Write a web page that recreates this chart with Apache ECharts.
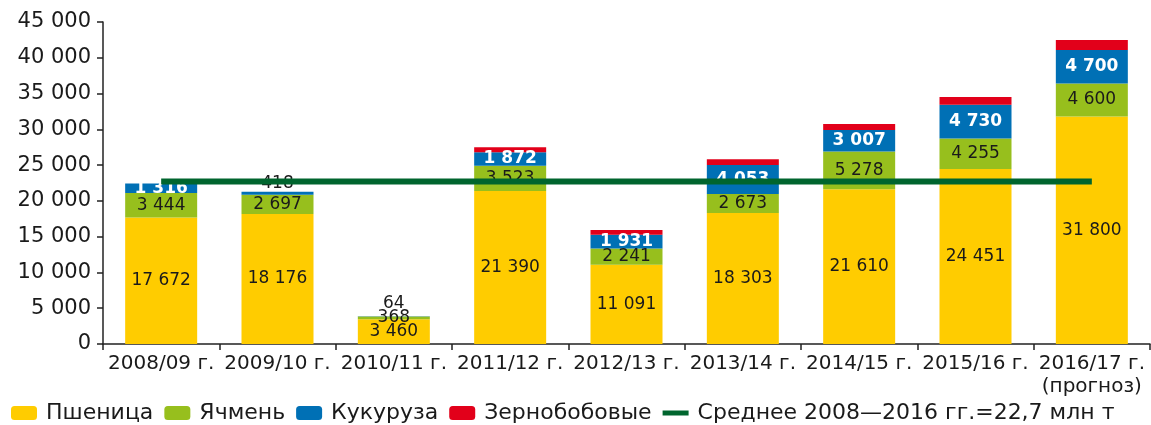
<!DOCTYPE html>
<html>
<head>
<meta charset="utf-8">
<script src="https://cdn.jsdelivr.net/npm/echarts@6/dist/echarts.min.js"></script>
<style>
  html, body { margin: 0; padding: 0; background: #fff; }
  #main { width: 1151px; height: 425px; }
</style>
</head>
<body>
<div id="main"></div>
<script>
// годы
var years = ['2008/09 г.', '2009/10 г.', '2010/11 г.', '2011/12 г.', '2012/13 г.',
  '2013/14 г.', '2014/15 г.', '2015/16 г.', '2016/17 г.\n(прогноз)']
// тыс. т
var wheat = [17672, 18176, 3460, 21390, 11091, 18303, 21610, 24451, 31800]
var barley = [3444, 2697, 368, 3523, 2241, 2673, 5278, 4255, 4600]
var corn = [1316, 418, 64, 1872, 1931, 4053, 3007, 4730, 4700]
var pulses = [0, 0, 0, 700, 680, 800, 850, 1100, 1400] // без подписей, по высоте
var average = [22700, 22700, 22700, 22700, 22700, 22700, 22700, 22700, 22700]

var FONT = 'DejaVu Sans'
var TXT = '#1a1a1a'
var AVG_NAME = 'Среднее 2008—2016 гг.=22,7 млн т'

function fmt(v) {
  return String(v).replace(/\B(?=(\d{3})+(?!\d))/g, ' ')
}

var chart = echarts.init(document.getElementById('main'))

// кукуруза: маленькие значения подписаны над столбиком
var cornData = corn.map(function (v, i) {
  if (i === 1 || i === 2) {
    return { value: v, label: { position: 'top', distance: i === 1 ? 0 : 4, color: TXT, fontWeight: 'normal' } }
  }
  return v
})

chart.setOption({
  animation: false,
  textStyle: { fontFamily: FONT },
  grid: { left: 103, right: 1, top: 22, bottom: 81 },
  legend: {
    left: 11,
    top: 402,
    padding: 0,
    itemWidth: 26,
    itemHeight: 14,
    itemGap: 11,
    symbolKeepAspect: true,
    textStyle: { fontFamily: FONT, fontSize: 22, color: TXT, padding: [0, 0, 0, 4] },
    data: ['Пшеница', 'Ячмень', 'Кукуруза', 'Зернобобовые',
      { name: AVG_NAME, icon: 'path://M0,0h26v5h-26z' }]
  },
  xAxis: {
    type: 'category',
    data: years,
    axisLine: { lineStyle: { color: '#222', width: 1.5 } },
    axisTick: { show: true, length: 6, lineStyle: { color: '#222', width: 1.5 } },
    axisLabel: {
      fontFamily: FONT, fontSize: 20, color: TXT, margin: 8, lineHeight: 23,
      interval: 0
    }
  },
  yAxis: {
    type: 'value',
    min: 0,
    max: 45000,
    interval: 5000,
    splitLine: { show: false },
    axisLine: { show: true, lineStyle: { color: '#222', width: 1.5 } },
    axisTick: { show: true, length: 6, lineStyle: { color: '#222', width: 1.5 } },
    axisLabel: {
      fontFamily: FONT, fontSize: 21, color: TXT, margin: 12,
      formatter: function (v) { return fmt(v) }
    }
  },
  series: [
    {
      name: 'Пшеница', type: 'bar', stack: 'total', barWidth: 72,
      itemStyle: { color: '#FFCC00' },
      label: { show: true, position: 'inside', fontFamily: FONT, fontSize: 17, color: TXT,
        formatter: function (p) { return fmt(p.value) } },
      data: wheat
    },
    {
      name: 'Ячмень', type: 'bar', stack: 'total',
      itemStyle: { color: '#97BF1D' },
      label: { show: true, position: 'inside', fontFamily: FONT, fontSize: 17, color: TXT,
        formatter: function (p) { return fmt(p.value) } },
      data: barley
    },
    {
      name: 'Кукуруза', type: 'bar', stack: 'total',
      itemStyle: { color: '#0070B5' },
      label: { show: true, position: 'inside', fontFamily: FONT, fontSize: 17, color: '#fff', fontWeight: 'bold',
        formatter: function (p) { return fmt(p.value) } },
      data: cornData
    },
    {
      name: 'Зернобобовые', type: 'bar', stack: 'total',
      itemStyle: { color: '#E2001A' },
      data: pulses
    },
    {
      name: AVG_NAME, type: 'line',
      symbol: 'none', z: 5,
      lineStyle: { color: '#00652E', width: 6 },
      itemStyle: { color: '#00652E' },
      data: average
    }
  ]
})
</script>
</body>
</html>
